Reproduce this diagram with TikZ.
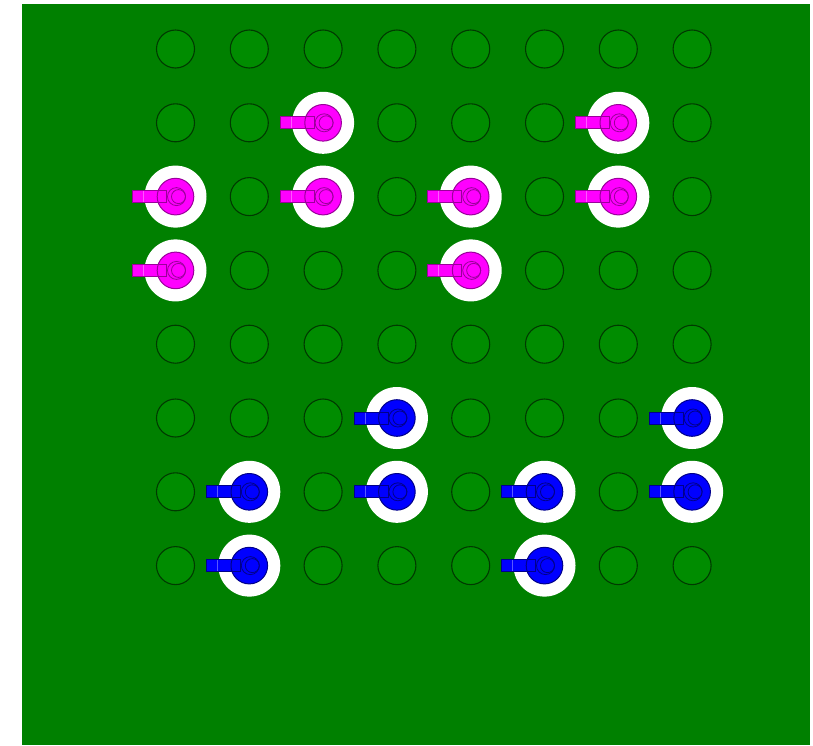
\documentclass[tikz,border=0pt]{standalone}
\usepackage{xcolor}
\usepackage{tikz}

\definecolor{board}{HTML}{008000}
\definecolor{holefill}{HTML}{008C00}
\definecolor{holeline}{HTML}{003A00}
\definecolor{mpin}{HTML}{FF00FF}
\definecolor{mline}{HTML}{9A009A}
\definecolor{bpin}{HTML}{0000FF}
\definecolor{bline}{HTML}{00008A}

\begin{document}
\begin{tikzpicture}[x=1pt, y=-1pt,
  hole/.style={fill=holefill, draw=holeline, line width=1.1pt},
  clearance/.style={fill=white}]
\useasboundingbox (0,0) rectangle (813,745);
\fill[board] (22,4) rectangle (810,745);

% Grid of holes: 8 x 8
\foreach \i in {0,1,...,7} {
  \foreach \j in {0,1,...,7} {
    \draw[hole] ({175.5+73.8*\i},{49+73.8*\j}) circle (19);
  }
}

% Pins: column/row/colour (m = magenta, b = blue)
\foreach \i/\j/\c in {2/1/m, 6/1/m, 0/2/m, 2/2/m, 4/2/m, 6/2/m, 0/3/m, 4/3/m,
                      3/5/b, 7/5/b, 1/6/b, 3/6/b, 5/6/b, 7/6/b, 1/7/b, 5/7/b} {
  \pgfmathsetmacro\cx{175.5+73.8*\i}
  \pgfmathsetmacro\cy{49+73.8*\j}
  \fill[clearance] (\cx,\cy) circle (31);
  \fill[\c pin] (\cx,\cy) circle (18.3);
  \fill[\c pin] (\cx-43,\cy-6) rectangle (\cx-9,\cy+6);
  \draw[\c line, line width=1pt] (\cx,\cy) circle (18.3);
  \draw[\c line, line width=0.8pt] (\cx-43,\cy-6) rectangle (\cx-9,\cy+6);
  \draw[white!35!\c pin, line width=0.6pt] (\cx-32,\cy-5.5) -- (\cx-32,\cy+5.5);
  \draw[\c line, line width=0.8pt] (\cx+1,\cy) circle (9);
  \draw[\c line, line width=0.8pt] (\cx+3,\cy) circle (7);
}
\end{tikzpicture}
\end{document}
